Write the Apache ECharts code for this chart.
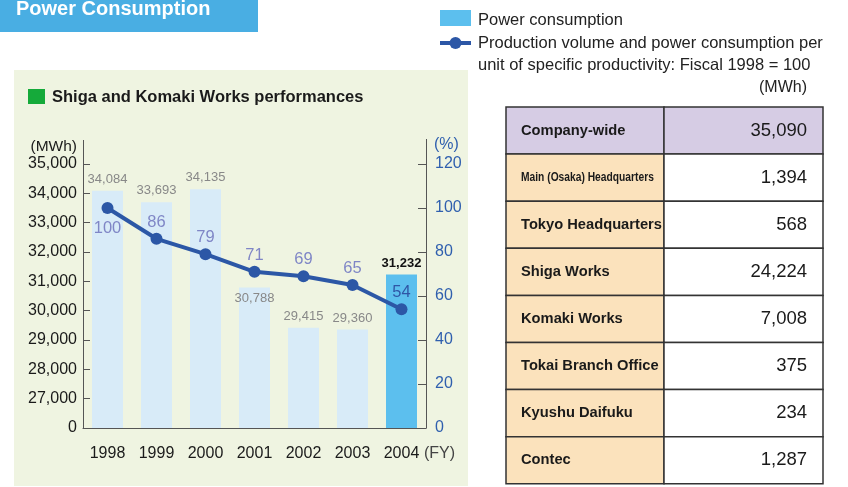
<!DOCTYPE html>
<html>
<head>
<meta charset="utf-8">
<script src="https://cdn.jsdelivr.net/npm/echarts@6/dist/echarts.min.js"></script>
<style>
  html, body { margin: 0; padding: 0; background: #fff; }
  #chart { width: 848px; height: 487px; }
</style>
</head>
<body>
<div id="chart"></div>
<script>
// data
const years = ['1998', '1999', '2000', '2001', '2002', '2003', '2004']
const power = [34084, 33693, 34135, 30788, 29415, 29360, 31232]
const unitIndex = [100, 86, 79, 71, 69, 65, 54]
const leftTicks = { min: 26000, max: 35000, step: 1000 } // 26000 is drawn as "0" (broken axis)
const rightTicks = { min: 0, max: 120, step: 20 }
const siteNames = ['Company-wide', 'Main (Osaka) Headquarters', 'Tokyo Headquarters', 'Shiga Works',
  'Komaki Works', 'Tokai Branch Office', 'Kyushu Daifuku', 'Contec']
const siteValues = [35090, 1394, 568, 24224, 7008, 375, 234, 1287]

const font = '"Liberation Sans", Arial, sans-serif'
const fmt = v => v.toLocaleString('en-US')

const chart = echarts.init(document.getElementById('chart'))

const lastIdx = years.length - 1
const barData = power.map((v, i) => {
  const item = { value: v }
  if (i === lastIdx) {
    item.itemStyle = { color: '#5cbfee' }
    item.label = { color: '#111', fontWeight: 'bold' }
  }
  if (i === 3) item.label = { position: 'insideTop', distance: 4 }
  return item
})
const lineData = unitIndex.map((v, i) => {
  const item = { value: v }
  if (i === 0) item.label = { position: 'bottom', distance: 6 }
  if (i === lastIdx) item.label = { color: '#2f56a6' }
  return item
})

// table built from the arrays
const tblX = 506, tblY = 107, colW = [158, 159], rowH = 47.1
const table = []
siteNames.forEach((name, i) => {
  const y = tblY + i * rowH
  table.push({
    type: 'rect', z: 5,
    shape: { x: tblX, y: y, width: colW[0], height: rowH },
    style: { fill: i === 0 ? '#d6cce4' : '#fbe2bc', stroke: '#333', lineWidth: 1.5 }
  })
  table.push({
    type: 'rect', z: 5,
    shape: { x: tblX + colW[0], y: y, width: colW[1], height: rowH },
    style: { fill: i === 0 ? '#d6cce4' : '#fff', stroke: '#333', lineWidth: 1.5 }
  })
  const long = name.length > 20
  table.push({
    type: 'text', z: 6, x: tblX + 15, y: y + rowH / 2,
    scaleX: long ? 0.76 : 1,
    style: {
      text: name, fill: '#1a1a1a', fontWeight: 'bold',
      fontSize: long ? 13.5 : 14.7, fontFamily: font,
      verticalAlign: 'middle', align: 'left'
    }
  })
  table.push({
    type: 'text', z: 6, x: tblX + colW[0] + colW[1] - 16, y: y + rowH / 2,
    style: { text: fmt(siteValues[i]), fill: '#1a1a1a', fontSize: 18.5, fontFamily: font, verticalAlign: 'middle', align: 'right' }
  })
})

const option = {
  animation: false,
  textStyle: { fontFamily: font },
  grid: { left: 83, right: 422, top: 164, bottom: 59, containLabel: false },
  xAxis: {
    type: 'category',
    data: years,
    axisLine: { lineStyle: { color: '#555', width: 1 } },
    axisTick: { show: false },
    axisLabel: { color: '#1a1a1a', fontSize: 16, margin: 18, fontFamily: font }
  },
  yAxis: [
    {
      type: 'value',
      min: leftTicks.min, max: leftTicks.max, interval: leftTicks.step,
      axisLine: { show: true, lineStyle: { color: '#555', width: 1 } },
      axisTick: { show: true, inside: true, length: 7, lineStyle: { color: '#555' } },
      splitLine: { show: false },
      axisLabel: {
        color: '#1a1a1a', fontSize: 16, margin: 6, fontFamily: font,
        formatter: v => v === leftTicks.min ? '0' : fmt(v)
      }
    },
    {
      type: 'value',
      min: rightTicks.min, max: rightTicks.max, interval: rightTicks.step,
      position: 'right',
      axisLine: { show: true, lineStyle: { color: '#555', width: 1 } },
      axisTick: { show: true, inside: true, length: 8, lineStyle: { color: '#555' } },
      splitLine: { show: false },
      axisLabel: { color: '#2f5fae', fontSize: 16, margin: 9, fontFamily: font }
    }
  ],
  series: [
    {
      name: 'Power consumption',
      type: 'bar',
      data: barData,
      barWidth: 31,
      itemStyle: { color: '#d8ebf8' },
      label: {
        show: true, position: 'top', distance: 5,
        color: '#888', fontSize: 13, fontFamily: font,
        formatter: p => fmt(p.value)
      },
      z: 2
    },
    {
      name: 'Production volume and power consumption per unit of specific productivity',
      type: 'line',
      yAxisIndex: 1,
      data: lineData,
      symbol: 'circle',
      symbolSize: 12,
      lineStyle: { color: '#2c57a6', width: 4 },
      itemStyle: { color: '#2c57a6' },
      label: { show: true, position: 'top', distance: 2, color: '#7f86c6', fontSize: 16.5, fontFamily: font },
      z: 3
    }
  ],
  graphic: [
    // green panel
    { type: 'rect', z: -10, shape: { x: 14, y: 70, width: 454, height: 416 }, style: { fill: '#eff4e1' } },
    // title tab
    { type: 'rect', z: 5, shape: { x: 0, y: -2, width: 258, height: 34 }, style: { fill: '#49aee3' } },
    { type: 'text', z: 6, x: 16, y: 9, style: { text: 'Power Consumption', fill: '#fff', fontSize: 20, fontWeight: 'bold', fontFamily: font, verticalAlign: 'middle' } },
    // legend
    { type: 'rect', z: 5, shape: { x: 440, y: 10, width: 31, height: 16 }, style: { fill: '#5cbfee' } },
    { type: 'text', z: 6, x: 478, y: 20, style: { text: 'Power consumption', fill: '#222', fontSize: 16.5, fontFamily: font, verticalAlign: 'middle' } },
    { type: 'line', z: 5, shape: { x1: 440, y1: 43, x2: 471, y2: 43 }, style: { stroke: '#2c57a6', lineWidth: 4 } },
    { type: 'circle', z: 6, shape: { cx: 455.5, cy: 43, r: 6 }, style: { fill: '#2c57a6' } },
    { type: 'text', z: 6, x: 478, y: 43, style: { text: 'Production volume and power consumption per', fill: '#222', fontSize: 16.5, fontFamily: font, verticalAlign: 'middle' } },
    { type: 'text', z: 6, x: 478, y: 65, style: { text: 'unit of specific productivity: Fiscal 1998 = 100', fill: '#222', fontSize: 16.5, fontFamily: font, verticalAlign: 'middle' } },
    { type: 'text', z: 6, x: 807, y: 88, style: { text: '(MWh)', fill: '#222', fontSize: 16, fontFamily: font, verticalAlign: 'middle', align: 'right' } },
    // panel heading
    { type: 'rect', z: 5, shape: { x: 28, y: 89, width: 17, height: 15 }, style: { fill: '#15aa3a' } },
    { type: 'text', z: 6, x: 52, y: 97, style: { text: 'Shiga and Komaki Works performances', fill: '#1a1a1a', fontSize: 16.5, fontWeight: 'bold', fontFamily: font, verticalAlign: 'middle' } },
    // axis units and extended axis tops
    { type: 'text', z: 6, x: 77, y: 147, style: { text: '(MWh)', fill: '#1a1a1a', fontSize: 15.5, fontFamily: font, verticalAlign: 'middle', align: 'right' } },
    { type: 'text', z: 6, x: 434, y: 145, style: { text: '(%)', fill: '#2f5fae', fontSize: 16, fontFamily: font, verticalAlign: 'middle' } },
    { type: 'text', z: 6, x: 424, y: 454, style: { text: '(FY)', fill: '#444', fontSize: 16, fontFamily: font, verticalAlign: 'middle' } },
    { type: 'line', z: 5, shape: { x1: 83.5, y1: 140, x2: 83.5, y2: 164 }, style: { stroke: '#555', lineWidth: 1 } },
    { type: 'line', z: 5, shape: { x1: 426.5, y1: 139, x2: 426.5, y2: 164 }, style: { stroke: '#555', lineWidth: 1 } }
  ].concat(table)
}

chart.setOption(option)
window.addEventListener('resize', function () {
  chart.resize()
})
</script>
</body>
</html>
